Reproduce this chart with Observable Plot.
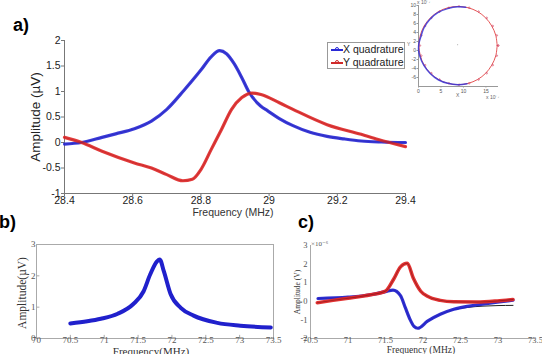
<!DOCTYPE html>
<html><head><meta charset="utf-8">
<script src="https://cdn.jsdelivr.net/npm/d3@7"></script>
<script src="https://cdn.jsdelivr.net/npm/@observablehq/plot@0.6"></script>
<style>
body{margin:0;background:#fff;}
#root{position:relative;width:542px;height:354px;overflow:hidden;background:#fff;font-family:"Liberation Sans",Arial,sans-serif;}
.t{position:absolute;white-space:nowrap;line-height:1;}
.serif{font-family:"Liberation Serif","DejaVu Serif",serif;}
</style></head><body><div id="root"></div>
<script>
// ---------- Panel a data ----------
const aXTicks = [28.4, 28.6, 28.8, 29, 29.2, 29.4];
const aYTicks = [-1, -0.5, 0, 0.5, 1, 1.5, 2];
const aFreqX = [28.4, 28.45, 28.51, 28.55, 28.605, 28.655, 28.70, 28.75, 28.80, 28.83, 28.855, 28.875, 28.897, 28.92, 28.94, 28.976, 28.996, 29.03, 29.07, 29.12, 29.17, 29.22, 29.27, 29.33, 29.4];
const aXQuad = [-0.03, 0.0, 0.1, 0.17, 0.27, 0.42, 0.65, 1.02, 1.42, 1.68, 1.80, 1.74, 1.55, 1.27, 1.0, 0.71, 0.62, 0.47, 0.33, 0.2, 0.12, 0.07, 0.03, 0.01, 0.0];
const aFreqY = [28.4, 28.45, 28.51, 28.605, 28.655, 28.70, 28.747, 28.775, 28.80, 28.83, 28.86, 28.89, 28.92, 28.95, 28.976, 29.03, 29.07, 29.17, 29.27, 29.32, 29.4];
const aYQuad = [0.1, 0.0, -0.17, -0.4, -0.5, -0.63, -0.75, -0.72, -0.53, -0.14, 0.25, 0.65, 0.88, 0.97, 0.94, 0.78, 0.65, 0.35, 0.16, 0.06, -0.08];
const aSeries = ["X quadrature", "Y quadrature"];

// ---------- Inset data (x 1e-7) ----------
const inXTicks = [0, 5, 10, 15];
const inYTicks = [-6, -4, -2, 0, 2, 4, 6, 8, 10];
const inRedX = [17.5, 17.2, 16.3, 14.95, 13.15, 11.05, 8.8, 6.55, 4.45, 2.65, 1.25, 0.4, 0.1, 0.4, 1.25, 2.65, 4.45, 6.55, 8.8, 11.05, 13.15, 14.95, 16.3, 17.2, 17.5];
const inRedY = [1.1, 3.35, 5.45, 7.25, 8.65, 9.5, 9.8, 9.5, 8.65, 7.25, 5.45, 3.35, 1.1, -1.15, -3.25, -5.05, -6.45, -7.3, -7.6, -7.3, -6.45, -5.05, -3.25, -1.15, 1.1];
const inBlueX = [10.5, 8.8, 6.5, 4.3, 2.5, 1.2, 0.5, 0.1, 0.0, 0.3, 1.2, 2.6, 4.4, 6.5, 8.8, 10.8];
const inBlueY = [9.6, 9.7, 9.3, 8.4, 6.9, 5.0, 3.0, 1.6, 0.3, -1.3, -3.3, -5.1, -6.5, -7.3, -7.6, -7.4];

// ---------- Panel b data ----------
const bXTicks = [70, 70.5, 71, 71.5, 72, 72.5, 73, 73.5];
const bYTicks = [0, 1, 2, 3];
const bFreq = [70.5, 70.75, 70.95, 71.2, 71.43, 71.58, 71.68, 71.78, 71.82, 71.88, 71.98, 72.13, 72.32, 72.67, 73.01, 73.46];
const bAmp = [0.48, 0.55, 0.63, 0.79, 1.1, 1.5, 2.05, 2.46, 2.52, 2.15, 1.42, 0.98, 0.73, 0.5, 0.41, 0.35];

// ---------- Panel c data (x 1e-6 V) ----------
const cXTicks = [70.5, 71, 71.5, 72, 72.5, 73, 73.5];
const cYTicks = [-2, -1, 0, 1, 2, 3];
const cFreqRed = [70.59, 70.8, 71.0, 71.3, 71.5, 71.61, 71.7, 71.79, 71.87, 71.97, 72.06, 72.23, 72.41, 72.72, 72.99, 73.2];
const cRed = [-0.08, 0.05, 0.16, 0.35, 0.55, 1.2, 1.85, 2.04, 1.25, 0.54, 0.27, 0.05, -0.03, -0.04, 0.02, 0.1];
const cFreqBlue = [70.6, 71.0, 71.3, 71.5, 71.6, 71.7, 71.76, 71.83, 71.88, 71.93, 72.06, 72.23, 72.41, 72.59, 72.77, 72.99, 73.2];
const cBlue = [0.15, 0.22, 0.35, 0.52, 0.6, 0.3, -0.3, -1.0, -1.35, -1.45, -1.07, -0.7, -0.43, -0.27, -0.17, -0.05, 0.06];
const cFitFreq = [70.6, 71.0, 71.3, 71.5, 71.6, 71.7, 71.76, 71.83, 71.88, 71.93, 72.06, 72.23, 72.41, 72.59, 72.8, 73.0, 73.2];
const cFitBlue = [0.15, 0.22, 0.35, 0.52, 0.6, 0.3, -0.3, -1.0, -1.35, -1.45, -1.07, -0.7, -0.45, -0.33, -0.26, -0.23, -0.22];

// ---------- helpers ----------
const root = document.getElementById("root");
const zip = (xs, ys, s) => xs.map((x, i) => ({x, y: ys[i], s}));
function place(el, left, top) {
  el.style.position = "absolute";
  el.style.left = left + "px";
  el.style.top = top + "px";
  el.style.background = "transparent";
  el.style.maxWidth = "none";
  root.appendChild(el);
}
function txt(str, left, top, size, extra) {
  const d = document.createElement("div");
  d.className = "t" + (extra && extra.cls ? " " + extra.cls : "");
  d.textContent = str;
  d.style.left = left + "px";
  d.style.top = top + "px";
  d.style.fontSize = size + "px";
  if (extra && extra.color) d.style.color = extra.color;
  if (extra && extra.rot) {
    d.style.transform = "translate(-50%,-50%) rotate(-90deg)";
  } else if (extra && extra.center) {
    d.style.transform = "translate(-50%,-50%)";
  }
  if (extra && extra.bold) d.style.fontWeight = "bold";
  root.appendChild(d);
  return d;
}
const fmt = d => String(d);

// ---------- Panel a ----------
const aData = zip(aFreqX, aXQuad, aSeries[0]).concat(zip(aFreqY, aYQuad, aSeries[1]));
const aPlot = Plot.plot({
  width: 420, height: 220,
  marginLeft: 64, marginRight: 15, marginTop: 40, marginBottom: 27,
  x: {domain: [28.4, 29.4]},
  y: {domain: [-1, 2]},
  style: {fontFamily: "Liberation Sans, Arial, sans-serif", fontSize: "10.5px", color: "#222", background: "transparent"},
  marks: [
    Plot.ruleX([28.4], {stroke: "#777"}),
    Plot.ruleY([-1], {stroke: "#777"}),
    Plot.axisX(aXTicks, {tickSize: 3, tickPadding: 0, tickFormat: fmt, label: null, stroke: "#777"}),
    Plot.axisY(aYTicks, {tickSize: 3, tickPadding: 1, tickFormat: fmt, label: null, stroke: "#777"}),
    Plot.line(aData, {x: "x", y: "y", z: "s", stroke: d => d.s === aSeries[0] ? "#2a2ad6" : "#e02a2a", strokeWidth: 3.2, curve: "monotone-x", strokeOpacity: 0.92}),
    Plot.line(aData, {x: "x", y: "y", z: "s", stroke: d => d.s === aSeries[0] ? "#1a1aa8" : "#b01818", strokeWidth: 0.8, curve: "monotone-x", strokeOpacity: 0.5})
  ]
});
place(aPlot, 0, 0);
txt("a)", 13, 16, 18, {bold: true, color: "#000"});
txt("Amplitude (µV)", 36, 117, 13.5, {rot: true, color: "#222"});
txt("Frequency (MHz)", 233, 212, 10.5, {center: true, color: "#333"});

// legend
const leg = document.createElement("div");
leg.style.cssText = "position:absolute;left:327px;top:42px;width:76px;height:25px;border:1px solid #999;background:#fff;";
root.appendChild(leg);
aSeries.forEach((name, i) => {
  const col = i === 0 ? "#2a2ad6" : "#d02a2a";
  const ln = document.createElement("div");
  ln.style.cssText = `position:absolute;left:3px;top:${6 + i * 13}px;width:12px;height:2px;background:${col};`;
  leg.appendChild(ln);
  const mk = document.createElement("div");
  mk.style.cssText = `position:absolute;left:7px;top:${4 + i * 13}px;width:4px;height:4px;border:1px solid ${col};border-radius:50%;box-sizing:border-box;`;
  leg.appendChild(mk);
  const t = document.createElement("div");
  t.textContent = name;
  t.style.cssText = `position:absolute;left:15px;top:${1 + i * 13}px;font-size:10.5px;line-height:11px;color:#222;white-space:nowrap;`;
  leg.appendChild(t);
});

// ---------- Inset ----------
const inset = Plot.plot({
  width: 142, height: 100,
  marginLeft: 18, marginRight: 44, marginTop: 5, marginBottom: 14,
  x: {domain: [0, 17.8]},
  y: {domain: [-8, 10]},
  style: {fontFamily: "Liberation Sans, Arial, sans-serif", fontSize: "5px", color: "#555", background: "transparent"},
  marks: [
    Plot.ruleX([0], {stroke: "#999"}),
    Plot.ruleY([-8], {stroke: "#999"}),
    Plot.axisX(inXTicks, {tickSize: 1.5, tickPadding: 1, tickFormat: fmt, label: null, stroke: "#999"}),
    Plot.axisY(inYTicks, {tickSize: 1.5, tickPadding: 1, tickFormat: fmt, label: null, stroke: "#999"}),
    Plot.line(zip(inRedX, inRedY), {x: "x", y: "y", stroke: "#e03a3a", strokeWidth: 1, curve: "catmull-rom", strokeOpacity: 0.85}),
    Plot.dot(zip(inRedX, inRedY), {x: "x", y: "y", stroke: "#d04060", r: 0.8, strokeWidth: 0.6, dx: 1}),
    Plot.line(zip(inBlueX, inBlueY), {x: "x", y: "y", stroke: "#3535d8", strokeWidth: 1.5, curve: "catmull-rom", strokeOpacity: 0.85}),
    Plot.dot([{x: 8.7, y: 1.3}], {x: "x", y: "y", fill: "#bbb", r: 0.6})
  ]
});
place(inset, 400, 0);
txt("x 10\u207B\u2077", 417, 0, 5, {color: "#666"});
txt("Y", 407, 42, 5, {color: "#666"});
txt("X", 456, 93, 5, {color: "#666"});
txt("x 10\u207B\u2077", 486, 95, 5, {color: "#666"});

// ---------- Panel b ----------
const bPlot = Plot.plot({
  width: 290, height: 118,
  marginLeft: 36, marginRight: 17, marginTop: 8, marginBottom: 16,
  x: {domain: [70, 73.5]},
  y: {domain: [0, 3]},
  style: {fontFamily: "Liberation Serif, DejaVu Serif, serif", fontSize: "9px", color: "#555", background: "transparent"},
  marks: [
    Plot.frame({stroke: "#aaa"}),
    Plot.ruleX(bXTicks.slice(1, -1), {x: d => d, y1: 0, y2: 0.1, stroke: "#aaa"}),
    Plot.ruleY(bYTicks.slice(1, -1), {y: d => d, x1: 70, x2: 70.05, stroke: "#aaa"}),
    Plot.axisX(bXTicks, {tickSize: 0, tickPadding: -2, tickFormat: fmt, label: null}),
    Plot.axisY(bYTicks, {tickSize: 0, tickPadding: 1, tickFormat: fmt, label: null}),
    Plot.line(zip(bFreq, bAmp), {x: "x", y: "y", stroke: "#2020cc", strokeWidth: 4, curve: "monotone-x"})
  ]
});
place(bPlot, 0, 236);
txt("b)", -1, 213, 18, {bold: true, color: "#000"});
txt("Amplitude(µV)", 23, 293, 11.5, {rot: true, color: "#333", cls: "serif"});
txt("Frequency(MHz)", 151, 351, 11, {center: true, color: "#333", cls: "serif"});

// ---------- Panel c ----------
const cPlot = Plot.plot({
  width: 272, height: 118,
  marginLeft: 40, marginRight: 7, marginTop: 9, marginBottom: 16,
  x: {domain: [70.5, 73.5]},
  y: {domain: [-2, 3]},
  style: {fontFamily: "Liberation Serif, DejaVu Serif, serif", fontSize: "8.5px", color: "#555", background: "transparent"},
  marks: [
    Plot.ruleX([70.5], {stroke: "#aaa"}),
    Plot.ruleY([-2], {stroke: "#aaa"}),
    Plot.axisX(cXTicks, {tickSize: 0, tickPadding: -2, tickFormat: fmt, label: null}),
    Plot.axisY(cYTicks, {tickSize: 0, tickPadding: 3, tickFormat: fmt, label: null}),
    Plot.line(zip(cFitFreq, cFitBlue), {x: "x", y: "y", stroke: "#222", strokeWidth: 1, curve: "monotone-x"}),
    Plot.line(zip(cFreqBlue, cBlue), {x: "x", y: "y", stroke: "#2424cc", strokeWidth: 3.2, curve: "monotone-x", strokeOpacity: 0.95}),
    Plot.line(zip(cFreqRed, cRed), {x: "x", y: "y", stroke: "#e02828", strokeWidth: 3.5, curve: "monotone-x", strokeOpacity: 0.95}),
    Plot.line(zip(cFreqRed, cRed), {x: "x", y: "y", stroke: "#400", strokeWidth: 0.8, curve: "monotone-x", strokeOpacity: 0.45})
  ]
});
place(cPlot, 270, 236);
txt("c)", 298, 213, 18, {bold: true, color: "#000"});
txt("\u00D710\u207B\u2076", 311, 241, 7, {color: "#555", cls: "serif"});
txt("Amplitude (V)", 298, 292, 7.5, {rot: true, color: "#333", cls: "serif"});
txt("Frequency (MHz)", 421, 351, 9.5, {center: true, color: "#333", cls: "serif"});
</script></body></html>
